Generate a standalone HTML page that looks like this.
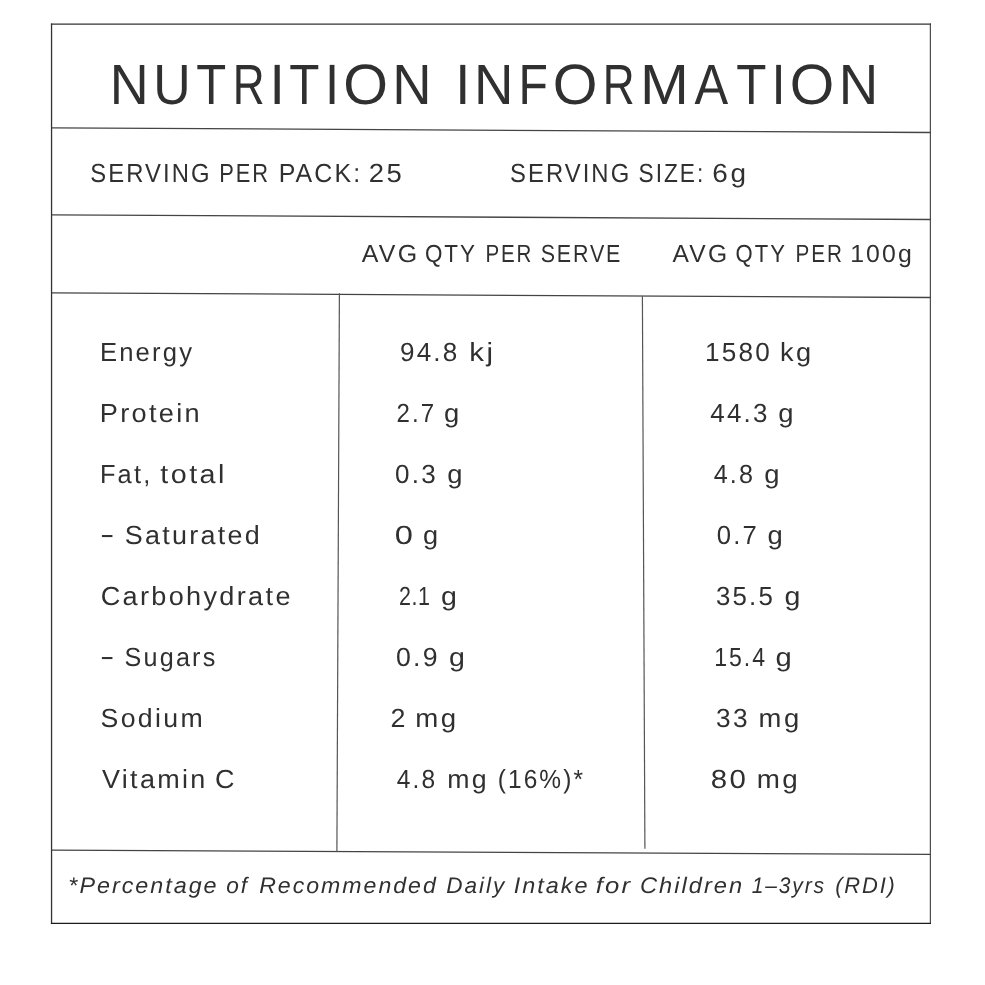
<!DOCTYPE html>
<html><head><meta charset="utf-8"><title>Nutrition Information</title><style>
html,body{margin:0;padding:0;background:#fff;}
body{width:985px;height:985px;position:relative;overflow:hidden;font-family:"Liberation Sans",sans-serif;color:#303030;}
.t{position:absolute;white-space:nowrap;line-height:1;margin:0;padding:0;transform-origin:0 0;text-rendering:geometricPrecision;}
.i{font-style:italic;}
svg{position:absolute;left:0;top:0;}
.w{position:absolute;left:0;top:0;width:985px;height:985px;filter:grayscale(1);}

</style></head><body>
<svg width="985" height="985" viewBox="0 0 985 985">
<line x1="50.9" y1="24.05" x2="931.0" y2="24.05" stroke="#333" stroke-width="1.3"/>
<line x1="51.55" y1="23.4" x2="51.55" y2="924.0" stroke="#333" stroke-width="1.3"/>
<line x1="930.35" y1="23.4" x2="930.35" y2="924.0" stroke="#3a3a3a" stroke-width="1.1"/>
<line x1="50.9" y1="923.4" x2="931.0" y2="923.4" stroke="#1c1c1c" stroke-width="1.3"/>
<line x1="52.0" y1="127.9" x2="930.4" y2="132.5" stroke="#444" stroke-width="1.3"/>
<line x1="52.0" y1="214.8" x2="930.4" y2="219.5" stroke="#444" stroke-width="1.3"/>
<line x1="52.0" y1="292.9" x2="930.4" y2="297.5" stroke="#444" stroke-width="1.3"/>
<line x1="52.0" y1="850.2" x2="930.4" y2="854.4" stroke="#444" stroke-width="1.3"/>
<line x1="339.4" y1="293.2" x2="336.9" y2="851.4" stroke="#555" stroke-width="1.2"/>
<line x1="642.4" y1="296.2" x2="644.9" y2="848.7" stroke="#555" stroke-width="1.2"/>
</svg>
<div class="w">
<div class="t" style="left:109px;top:58px;font-size:56.87px;transform:translateX(0.67px) scale(0.9480,1);">N</div>
<div class="t" style="left:153px;top:58px;font-size:56.87px;transform:translateX(0.24px) scale(0.9116,1);">U</div>
<div class="t" style="left:196px;top:58px;font-size:56.87px;transform:translateX(0.32px) scale(0.8620,1);">T</div>
<div class="t" style="left:232px;top:58px;font-size:56.87px;transform:translateX(0.71px) scale(0.7761,1);">R</div>
<div class="t" style="left:269px;top:58px;font-size:56.87px;transform:translateX(0.40px) scale(0.9714,1);">I</div>
<div class="t" style="left:289px;top:58px;font-size:56.87px;transform:translateX(0.18px) scale(0.8682,1);">T</div>
<div class="t" style="left:325px;top:58px;font-size:56.87px;transform:translateX(0.00px) scale(0.8952,1);">I</div>
<div class="t" style="left:343px;top:58px;font-size:56.87px;transform:translateX(0.22px) scale(1.0116,1);">O</div>
<div class="t" style="left:392px;top:58px;font-size:56.87px;transform:translateX(0.25px) scale(0.9575,1);">N</div>
<div class="t" style="left:455px;top:58px;font-size:56.87px;transform:translateX(0.20px) scale(0.9524,1);">I</div>
<div class="t" style="left:473px;top:58px;font-size:56.87px;transform:translateX(0.95px) scale(0.9606,1);">N</div>
<div class="t" style="left:518px;top:58px;font-size:56.87px;transform:translateX(0.48px) scale(0.8468,1);">F</div>
<div class="t" style="left:552px;top:58px;font-size:56.87px;transform:translateX(0.82px) scale(1.0116,1);">O</div>
<div class="t" style="left:602px;top:58px;font-size:56.87px;transform:translateX(0.74px) scale(0.7761,1);">R</div>
<div class="t" style="left:639px;top:58px;font-size:56.87px;transform:translateX(0.90px) scale(1.0316,1);">M</div>
<div class="t" style="left:694px;top:58px;font-size:56.87px;transform:translateX(0.48px) scale(0.8880,1);">A</div>
<div class="t" style="left:736px;top:58px;font-size:56.87px;transform:translateX(0.18px) scale(0.8682,1);">T</div>
<div class="t" style="left:771px;top:58px;font-size:56.87px;transform:translateX(0.50px) scale(0.8952,1);">I</div>
<div class="t" style="left:789px;top:58px;font-size:56.87px;transform:translateX(0.73px) scale(1.0065,1);">O</div>
<div class="t" style="left:838px;top:58px;font-size:56.87px;transform:translateX(0.64px) scale(0.9606,1);">N</div>
<div class="t" style="left:90px;top:160px;font-size:26.18px;letter-spacing:2.276px;transform:translateX(0.33px) scale(0.9099,1);">SERVING</div>
<div class="t" style="left:219px;top:160px;font-size:26.18px;letter-spacing:2.225px;transform:translateX(0.27px) scale(0.8355,1);">PER</div>
<div class="t" style="left:278px;top:160px;font-size:26.18px;letter-spacing:2.225px;transform:translateX(0.67px) scale(0.9518,1);">PACK:</div>
<div class="t" style="left:368px;top:160px;font-size:26.18px;letter-spacing:2.225px;transform:translateX(0.77px) scale(1.0492,1);">25</div>
<div class="t" style="left:509px;top:160px;font-size:26.18px;letter-spacing:2.276px;transform:translateX(0.98px) scale(0.9099,1);">SERVING</div>
<div class="t" style="left:638px;top:160px;font-size:26.18px;letter-spacing:2.291px;transform:translateX(0.54px) scale(0.8676,1);">SIZE:</div>
<div class="t" style="left:712px;top:160px;font-size:26.18px;letter-spacing:2.496px;transform:translateX(0.27px) scale(1.0676,1);">6g</div>
<div class="t" style="left:361px;top:243px;font-size:24.73px;letter-spacing:2.232px;transform:translateX(0.81px) scale(1.0094,1);">AVG</div>
<div class="t" style="left:424px;top:243px;font-size:24.73px;letter-spacing:2.102px;transform:translateX(0.97px) scale(0.9078,1);">QTY</div>
<div class="t" style="left:485px;top:243px;font-size:24.73px;letter-spacing:2.102px;transform:translateX(0.54px) scale(0.8315,1);">PER</div>
<div class="t" style="left:540px;top:243px;font-size:24.73px;letter-spacing:2.102px;transform:translateX(0.72px) scale(0.8679,1);">SERVE</div>
<div class="t" style="left:672px;top:243px;font-size:24.73px;letter-spacing:2.229px;transform:translateX(0.52px) scale(0.9961,1);">AVG</div>
<div class="t" style="left:735px;top:243px;font-size:24.73px;letter-spacing:2.238px;transform:translateX(0.49px) scale(0.8928,1);">QTY</div>
<div class="t" style="left:795px;top:243px;font-size:24.73px;letter-spacing:2.279px;transform:translateX(0.53px) scale(0.8373,1);">PER</div>
<div class="t" style="left:850px;top:243px;font-size:24.73px;letter-spacing:2.102px;transform:translateX(0.19px) scale(1.0051,1);">100g</div>
<div class="t i" style="left:68px;top:875px;font-size:22.40px;letter-spacing:1.904px;transform:translateX(0.34px) scale(1.0418,1);">*Percentage</div>
<div class="t i" style="left:226px;top:875px;font-size:22.40px;letter-spacing:1.904px;transform:translateX(0.34px) scale(1.0114,1);">of</div>
<div class="t i" style="left:259px;top:875px;font-size:22.40px;letter-spacing:1.924px;transform:translateX(0.18px) scale(1.0323,1);">Recommended</div>
<div class="t i" style="left:446px;top:875px;font-size:22.40px;letter-spacing:1.952px;transform:translateX(0.22px) scale(1.0067,1);">Daily</div>
<div class="t i" style="left:513px;top:875px;font-size:22.40px;letter-spacing:1.904px;transform:translateX(0.75px) scale(1.0455,1);">Intake</div>
<div class="t i" style="left:595px;top:875px;font-size:22.40px;letter-spacing:1.904px;transform:translateX(0.74px) scale(1.1473,1);">for</div>
<div class="t i" style="left:639px;top:875px;font-size:22.40px;letter-spacing:1.904px;transform:translateX(0.98px) scale(1.0570,1);">Children</div>
<div class="t i" style="left:751px;top:875px;font-size:22.40px;letter-spacing:1.945px;transform:translateX(0.78px) scale(0.9384,1);">1&ndash;3yrs</div>
<div class="t i" style="left:835px;top:875px;font-size:22.40px;letter-spacing:1.904px;transform:translateX(0.15px) scale(0.9775,1);">(RDI)</div>
<div class="t" style="left:99px;top:339px;font-size:26.18px;letter-spacing:2.225px;transform:translateX(0.90px) scale(0.9790,1);">Energy</div>
<div class="t" style="left:399px;top:339px;font-size:26.18px;letter-spacing:2.225px;transform:translateX(0.96px) scale(0.9950,1);">94.8</div>
<div class="t" style="left:469px;top:339px;font-size:26.18px;letter-spacing:2.225px;transform:translateX(0.34px) scale(1.1216,1);">kj</div>
<div class="t" style="left:705px;top:339px;font-size:26.18px;letter-spacing:2.225px;transform:translateX(0.00px) scale(0.9980,1);">1580</div>
<div class="t" style="left:780px;top:339px;font-size:26.18px;letter-spacing:2.225px;transform:translateX(0.08px) scale(1.0387,1);">kg</div>
<div class="t" style="left:99px;top:400px;font-size:26.18px;letter-spacing:2.225px;transform:translateX(0.77px) scale(1.0373,1);">Protein</div>
<div class="t" style="left:396px;top:400px;font-size:26.18px;letter-spacing:2.225px;transform:translateX(0.55px) scale(0.9188,1);">2.7</div>
<div class="t" style="left:444px;top:400px;font-size:26.18px;transform:translateX(0.05px) scale(1.0468,1);">g</div>
<div class="t" style="left:710px;top:400px;font-size:26.18px;letter-spacing:2.225px;transform:translateX(0.28px) scale(0.9906,1);">44.3</div>
<div class="t" style="left:778px;top:400px;font-size:26.18px;transform:translateX(0.35px) scale(1.0468,1);">g</div>
<div class="t" style="left:99px;top:461px;font-size:26.18px;letter-spacing:2.225px;transform:translateX(0.94px) scale(0.9708,1);">Fat,</div>
<div class="t" style="left:160px;top:461px;font-size:26.18px;letter-spacing:2.225px;transform:translateX(0.35px) scale(1.0970,1);">total</div>
<div class="t" style="left:395px;top:461px;font-size:26.18px;letter-spacing:2.225px;transform:translateX(0.11px) scale(0.9948,1);">0.3</div>
<div class="t" style="left:447px;top:461px;font-size:26.18px;transform:translateX(0.35px) scale(1.0468,1);">g</div>
<div class="t" style="left:713px;top:461px;font-size:26.18px;letter-spacing:2.225px;transform:translateX(0.72px) scale(0.9592,1);">4.8</div>
<div class="t" style="left:764px;top:461px;font-size:26.18px;transform:translateX(0.35px) scale(1.0468,1);">g</div>
<div class="t" style="left:99px;top:521px;font-size:26.18px;transform:translateX(0.94px) scale(1.6480,1);">-</div>
<div class="t" style="left:124px;top:522px;font-size:26.18px;letter-spacing:2.225px;transform:translateX(0.81px) scale(1.0280,1);">Saturated</div>
<div class="t" style="left:394px;top:522px;font-size:26.18px;transform:translateX(0.85px) scale(1.2480,1);">0</div>
<div class="t" style="left:423px;top:522px;font-size:26.18px;transform:translateX(0.06px) scale(1.0383,1);">g</div>
<div class="t" style="left:716px;top:522px;font-size:26.18px;letter-spacing:2.225px;transform:translateX(0.72px) scale(0.9805,1);">0.7</div>
<div class="t" style="left:767px;top:522px;font-size:26.18px;transform:translateX(0.44px) scale(1.0468,1);">g</div>
<div class="t" style="left:100px;top:583px;font-size:26.18px;letter-spacing:2.252px;transform:translateX(0.63px) scale(1.0353,1);">Carbohydrate</div>
<div class="t" style="left:399px;top:583px;font-size:26.18px;letter-spacing:0.686px;transform:translateX(0.09px) scale(0.8200,1);">2.1</div>
<div class="t" style="left:441px;top:583px;font-size:26.18px;transform:translateX(0.01px) scale(1.0894,1);">g</div>
<div class="t" style="left:715px;top:583px;font-size:26.18px;letter-spacing:2.225px;transform:translateX(0.99px) scale(0.9869,1);">35.5</div>
<div class="t" style="left:784px;top:583px;font-size:26.18px;transform:translateX(0.61px) scale(1.0894,1);">g</div>
<div class="t" style="left:99px;top:643px;font-size:26.18px;transform:translateX(0.94px) scale(1.6480,1);">-</div>
<div class="t" style="left:124px;top:644px;font-size:26.18px;letter-spacing:2.274px;transform:translateX(0.59px) scale(0.9611,1);">Sugars</div>
<div class="t" style="left:395px;top:644px;font-size:26.18px;letter-spacing:2.225px;transform:translateX(0.88px) scale(1.0181,1);">0.9</div>
<div class="t" style="left:449px;top:644px;font-size:26.18px;transform:translateX(0.11px) scale(1.0894,1);">g</div>
<div class="t" style="left:714px;top:644px;font-size:26.18px;letter-spacing:2.225px;transform:translateX(0.20px) scale(0.8812,1);">15.4</div>
<div class="t" style="left:775px;top:644px;font-size:26.18px;transform:translateX(0.53px) scale(1.1149,1);">g</div>
<div class="t" style="left:100px;top:705px;font-size:26.18px;letter-spacing:2.268px;transform:translateX(0.57px) scale(1.0199,1);">Sodium</div>
<div class="t" style="left:390px;top:705px;font-size:26.18px;transform:translateX(0.52px) scale(1.0250,1);">2</div>
<div class="t" style="left:415px;top:705px;font-size:26.18px;letter-spacing:2.225px;transform:translateX(0.35px) scale(1.0561,1);">mg</div>
<div class="t" style="left:715px;top:705px;font-size:26.18px;letter-spacing:2.512px;transform:translateX(0.96px) scale(1.0026,1);">33</div>
<div class="t" style="left:758px;top:705px;font-size:26.18px;letter-spacing:2.417px;transform:translateX(0.51px) scale(1.0475,1);">mg</div>
<div class="t" style="left:102px;top:766px;font-size:26.18px;letter-spacing:2.225px;transform:translateX(0.03px) scale(1.0306,1);">Vitamin</div>
<div class="t" style="left:215px;top:766px;font-size:26.18px;transform:translateX(0.11px) scale(1.0303,1);">C</div>
<div class="t" style="left:396px;top:766px;font-size:26.18px;letter-spacing:2.225px;transform:translateX(0.83px) scale(0.9362,1);">4.8</div>
<div class="t" style="left:447px;top:766px;font-size:26.18px;letter-spacing:2.225px;transform:translateX(0.17px) scale(1.0192,1);">mg</div>
<div class="t" style="left:497px;top:766px;font-size:26.18px;letter-spacing:2.225px;transform:translateX(0.74px) scale(0.9350,1);">(16%)*</div>
<div class="t" style="left:710px;top:766px;font-size:26.18px;letter-spacing:2.225px;transform:translateX(0.69px) scale(1.1251,1);">80</div>
<div class="t" style="left:756px;top:766px;font-size:26.18px;letter-spacing:2.225px;transform:translateX(0.74px) scale(1.0617,1);">mg</div>
</div>
</body></html>
